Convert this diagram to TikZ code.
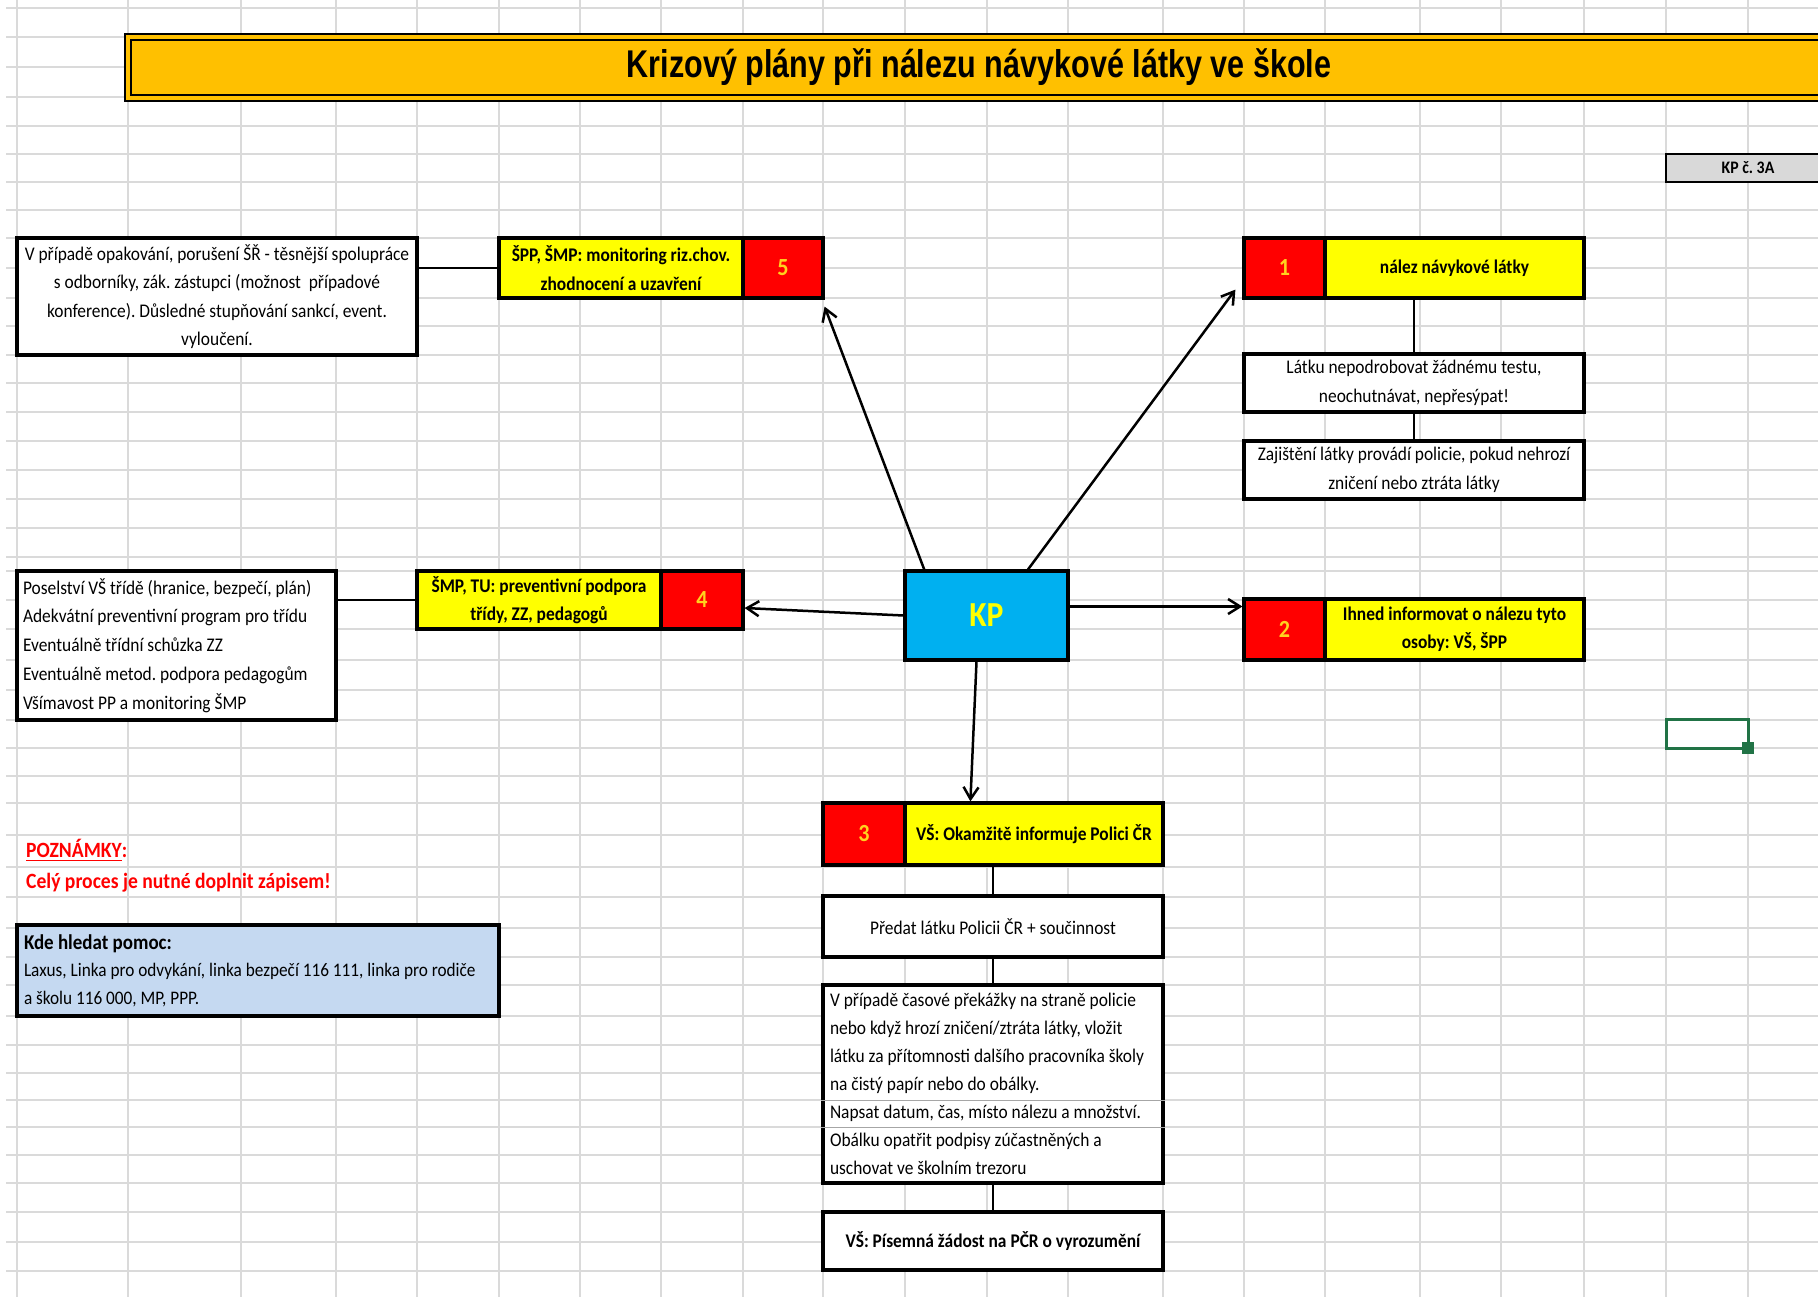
\documentclass[tikz,border=0pt]{standalone}
\usepackage{fontspec}
\setmainfont{Carlito}[FakeStretch=0.9]
\newfontfamily\titlefont{Liberation Sans}[FakeStretch=0.79]
\usetikzlibrary{arrows.meta,calc}

\newdimen\pxl \pxl=0.02cm
\definecolor{titlegold}{HTML}{FFC000}
\definecolor{cellred}{HTML}{FF0000}
\definecolor{cellyellow}{HTML}{FFFF00}
\definecolor{numyellow}{HTML}{FFD21F}
\definecolor{kpblue}{HTML}{00B0F0}
\definecolor{helpblue}{HTML}{C5D9F1}
\definecolor{taggray}{HTML}{D9D9D9}
\definecolor{gridgray}{HTML}{DADADA}
\definecolor{selgreen}{HTML}{217346}

\tikzset{
  gridline/.style={gridgray, line width=1.5\pxl},
  plainbox/.style={draw, fill=white, line width=3.2\pxl, inner sep=3\pxl, align=center,
    font=\fontsize{11}{16.2}\selectfont},
  numbox/.style={plainbox, fill=cellred, text=numyellow, font=\fontsize{14}{16}\selectfont\bfseries},
  yelbox/.style={plainbox, fill=cellyellow, font=\fontsize{11}{16.2}\selectfont\bfseries},
  link/.style={line width=1.5\pxl},
  kparrow/.style={line width=2.5\pxl, -{Straight Barb[length=0.24cm, width=0.3cm]}}
}

\begin{document}
\frenchspacing
\begin{tikzpicture}[x=0.02cm, y=-0.02cm]
  \clip (0,0) rectangle (1818,1297);
  \fill[white] (0,0) rectangle (1818,1297);
  % mrizka listu
  \foreach \gx in {17,128,241,336,417,499,580,661,743,823,905,987,1068,1163,1244,1325,1420,1501,1584,1666,1748}
    \draw[gridline] (\gx,0) -- (\gx,1297);
  \foreach \gy in {8,37,67,97,126,154,182,210,238,268,298,326,355,383,412,441,470,499,528,557,571,600,629,660,690,720,748,776,803,835,867,897,928,957,985,1016,1045,1073,1100,1127,1155,1183,1212,1242,1271}
    \draw[gridline, line width=2\pxl] (6,\gy) -- (1818,\gy);

  % nadpis
  \node[draw, fill=titlegold, line width=1.8\pxl, double=titlegold, double distance=3.5\pxl,
    minimum width=1702\pxl, minimum height=61\pxl, inner sep=0pt,
    font=\titlefont\fontsize{22}{24}\selectfont\bfseries] (title) at (979,67.5)
    {Krizový plány při nálezu návykové látky ve škole};
  \node[draw, fill=taggray, line width=2.5\pxl, minimum width=164\pxl, minimum height=28\pxl,
    inner sep=0pt, font=\fontsize{10}{12}\selectfont\bfseries] (tag) at (1748,168) {KP č. 3A};

  % stred
  \node[plainbox, fill=kpblue, text=cellyellow, minimum width=163\pxl, minimum height=89\pxl,
    font=\fontsize{20}{22}\selectfont\bfseries] (kp) at (986.5,615.5) {KP};

  % krok 1
  \node[numbox, minimum width=81\pxl, minimum height=60\pxl] (n1) at (1284.5,268) {1};
  \node[yelbox, minimum width=259\pxl, minimum height=60\pxl] (t1) at (1454.5,268) {nález návykové látky};
  \node[plainbox, minimum width=340\pxl, minimum height=58\pxl] (latku) at (1414,383)
    {Látku nepodrobovat žádnému testu,\\ neochutnávat, nepřesýpat!};
  \node[plainbox, minimum width=340\pxl, minimum height=58\pxl] (zajist) at (1414,470)
    {Zajištění látky provádí policie, pokud nehrozí\\ zničení nebo ztráta látky};
  \draw[link] (t1.south west -| latku.north) -- (latku.north);
  \draw[link] (latku.south) -- (zajist.north);

  % krok 2
  \node[numbox, minimum width=81\pxl, minimum height=61\pxl] (n2) at (1284.5,629.5) {2};
  \node[yelbox, minimum width=259\pxl, minimum height=61\pxl] (t2) at (1454.5,629.5)
    {Ihned informovat o nálezu tyto\\ osoby: VŠ, ŠPP};

  % krok 3
  \node[numbox, minimum width=82\pxl, minimum height=62\pxl] (n3) at (864,834) {3};
  \node[yelbox, minimum width=258\pxl, minimum height=62\pxl] (t3) at (1034,834)
    {VŠ: Okamžitě informuje Polici ČR};
  \node[plainbox, minimum width=340\pxl, minimum height=61\pxl] (predat) at (993,926.5)
    {Předat látku Policii ČR + součinnost};
  \node[plainbox, minimum width=340\pxl, minimum height=198\pxl, align=flush left, text width=326\pxl,
    inner xsep=7\pxl, font=\fontsize{11}{16}\selectfont] (pripad) at (993,1084)
    {V případě časové překážky na straně policie\\
     nebo když hrozí zničení/ztráta látky, vložit\\
     látku za přítomnosti dalšího pracovníka školy\\
     na čistý papír nebo do obálky.\\
     Napsat datum, čas, místo nálezu a množství.\\
     Obálku opatřit podpisy zúčastněných a\\
     uschovat ve školním trezoru};
  \draw[gray!70, line width=1\pxl] (pripad.west |- 0,1100) -- (pripad.east |- 0,1100)
    (pripad.west |- 0,1127) -- (pripad.east |- 0,1127);
  \node[plainbox, minimum width=340\pxl, minimum height=58\pxl, font=\fontsize{11}{16}\selectfont\bfseries]
    (pisemna) at (993,1241) {VŠ: Písemná žádost na PČR o vyrozumění};
  \draw[link] (t3.south west -| predat.north) -- (predat.north);
  \draw[link] (predat.south) -- (pripad.north);
  \draw[link] (pripad.south) -- (pisemna.north);

  % krok 4
  \node[yelbox, minimum width=244\pxl, minimum height=58\pxl] (t4) at (539,600)
    {ŠMP, TU: preventivní podpora\\ třídy, ZZ, pedagogů};
  \node[numbox, minimum width=82\pxl, minimum height=58\pxl] (n4) at (702,600) {4};
  \node[plainbox, minimum width=319\pxl, minimum height=149\pxl, align=flush left, text width=307\pxl,
    inner xsep=6\pxl, font=\fontsize{11}{16.4}\selectfont] (posel) at (176.5,645.5)
    {Poselství VŠ třídě (hranice, bezpečí, plán)\\
     Adekvátní preventivní program pro třídu\\
     Eventuálně třídní schůzka ZZ\\
     Eventuálně metod. podpora pedagogům\\
     Všímavost PP a monitoring ŠMP};
  \draw[link] (posel.east |- t4.west) -- (t4.west);

  % krok 5
  \node[yelbox, minimum width=244\pxl, minimum height=60\pxl] (t5) at (621,268)
    {ŠPP, ŠMP: monitoring riz.chov.\\ zhodnocení a uzavření};
  \node[numbox, minimum width=80\pxl, minimum height=60\pxl] (n5) at (783,268) {5};
  \node[plainbox, minimum width=400\pxl, minimum height=117\pxl] (opak) at (217,296.5)
    {V případě opakování, porušení ŠŘ - těsnější spolupráce\\
     s odborníky, zák. zástupci (možnost \ případové\\
     konference). Důsledné stupňování sankcí, event.\\
     vyloučení.};
  \draw[link] (opak.east |- t5.west) -- (t5.west);

  % sipky z KP
  \draw[kparrow] ($(kp.north west)!0.25!(kp.north)$) -- ($(n5.south east)+(0,7)$);
  \draw[kparrow] ($(kp.north)!0.5!(kp.north east)$) -- ($(n1.south west)+(-7,-10)$);
  \coordinate (kp2) at ($(kp.east)+(0,-9)$);
  \draw[kparrow] (kp2) -- (kp2 -| n2.west);
  \draw[kparrow] (kp.west) -- ($(n4.east)+(0,8)$);
  \draw[kparrow] ($(kp.south)+(-10,0)$) -- ($(t3.north west)+(67,0)$);

  % poznamky
  \node[anchor=west, text=cellred, font=\fontsize{12.4}{14}\selectfont\bfseries] (pozn) at (20,850)
    {\underline{POZNÁMKY}:};
  \node[anchor=west, text=cellred, font=\fontsize{12.4}{14}\selectfont\bfseries] (cely) at (20,883)
    {Celý proces je nutné doplnit zápisem!};
  \node[plainbox, fill=helpblue, minimum width=482\pxl, minimum height=91\pxl, align=flush left,
    text width=468\pxl, inner xsep=7\pxl, font=\fontsize{10.9}{15.6}\selectfont] (pomoc) at (258,970.5)
    {{\fontsize{12}{15.6}\selectfont\bfseries Kde hledat pomoc:}\\
     Laxus, Linka pro odvykání, linka bezpečí 116 111, linka pro rodiče\\
     a školu 116 000, MP, PPP.};

  % vybrana bunka
  \draw[selgreen, line width=3\pxl] (1666,719) rectangle (1748,748);
  \fill[selgreen] (1742,742) rectangle (1754,754);
\end{tikzpicture}
\end{document}
